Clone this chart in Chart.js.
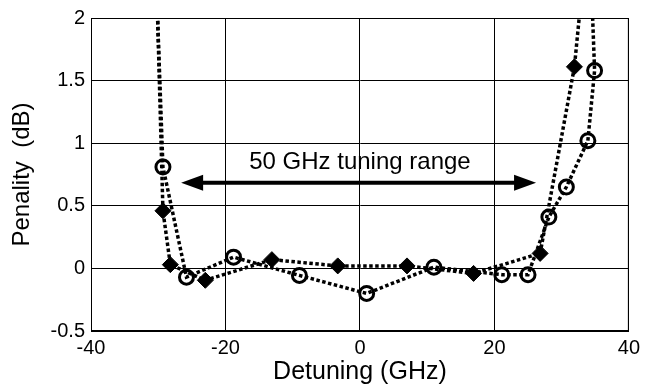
<!DOCTYPE html>
<html>
<head>
<meta charset="utf-8">
<script src="https://cdn.jsdelivr.net/npm/chart.js@4/dist/chart.umd.min.js"></script>
<style>
  html, body { margin: 0; padding: 0; background: #fff; }
  #wrap { width: 645px; height: 388px; }
</style>
</head>
<body>
<div id="wrap"><canvas id="c" width="645" height="388"></canvas></div>
<script>
// Detuning (GHz) and penalty (dB)
const diamondX = [-30.4, -29.3, -28.2, -23.0, -13.1, -3.3, 7.0, 16.9, 26.8, 31.9, 33.7];
const diamondY = [2.6, 0.46, 0.03, -0.095, 0.07, 0.02, 0.02, -0.04, 0.12, 1.61, 2.6];

const circleX = [-30.5, -29.3, -25.8, -18.8, -9.0, 1.0, 11.0, 21.1, 25.0, 28.1, 30.7, 33.9, 34.9, 34.2];
const circleY = [2.6, 0.81, -0.07, 0.09, -0.056, -0.2, 0.01, -0.05, -0.05, 0.41, 0.65, 1.02, 1.58, 2.6];

const xTicks = [-40, -20, 0, 20, 40];
const yTicks = [-0.5, 0, 0.5, 1, 1.5, 2];

const arrowLabel = '50 GHz tuning range';
const arrowFrom = {x: -26.6, y: 0.685};
const arrowTo = {x: 26.2, y: 0.685};
const labelAt = {x: 0, y: 0.845};

const toPts = (xs, ys) => xs.map((x, i) => ({x: x, y: ys[i]}));
const FONT = "'Liberation Sans', Arial, sans-serif";

const arrowPlugin = {
  id: 'arrowPlugin',
  afterDatasetsDraw(chart) {
    const {ctx, scales: {x, y}} = chart;
    const x1 = x.getPixelForValue(arrowFrom.x), y1 = y.getPixelForValue(arrowFrom.y);
    const x2 = x.getPixelForValue(arrowTo.x), y2 = y.getPixelForValue(arrowTo.y);
    const hl = 22, hw = 8;
    ctx.save();
    ctx.strokeStyle = '#000';
    ctx.fillStyle = '#000';
    ctx.lineWidth = 4;
    ctx.beginPath();
    ctx.moveTo(x1 + hl - 2, y1);
    ctx.lineTo(x2 - hl + 2, y2);
    ctx.stroke();
    ctx.beginPath();
    ctx.moveTo(x1, y1);
    ctx.lineTo(x1 + hl, y1 - hw);
    ctx.lineTo(x1 + hl, y1 + hw);
    ctx.closePath();
    ctx.fill();
    ctx.beginPath();
    ctx.moveTo(x2, y2);
    ctx.lineTo(x2 - hl, y2 - hw);
    ctx.lineTo(x2 - hl, y2 + hw);
    ctx.closePath();
    ctx.fill();
    ctx.font = '24px ' + FONT;
    ctx.textAlign = 'center';
    ctx.textBaseline = 'middle';
    ctx.fillText(arrowLabel, x.getPixelForValue(labelAt.x), y.getPixelForValue(labelAt.y));
    ctx.restore();
  }
};

new Chart(document.getElementById('c'), {
  type: 'line',
  data: {
    datasets: [
      {
        label: 'diamond',
        data: toPts(diamondX, diamondY),
        borderColor: '#000',
        borderWidth: 3.5,
        borderDash: [3.5, 2.5],
        pointStyle: 'rectRot',
        pointRadius: c => (c.raw && c.raw.y > 2 ? 0 : 8),
        pointBackgroundColor: '#000',
        pointBorderColor: '#000',
        pointBorderWidth: 1,
        tension: 0,
        fill: false
      },
      {
        label: 'circle',
        data: toPts(circleX, circleY),
        borderColor: '#000',
        borderWidth: 3.5,
        borderDash: [3.5, 2.5],
        pointStyle: 'circle',
        pointRadius: c => (c.raw && c.raw.y > 2 ? 0 : 7),
        pointBackgroundColor: 'rgba(255,255,255,0)',
        pointBorderColor: '#000',
        pointBorderWidth: 3,
        tension: 0,
        fill: false
      }
    ]
  },
  options: {
    responsive: false,
    animation: false,
    events: [],
    layout: { padding: { top: 17, right: 14, left: 0, bottom: 0 } },
    plugins: { legend: { display: false }, tooltip: { enabled: false } },
    scales: {
      x: {
        type: 'linear',
        min: -40, max: 40,
        afterBuildTicks: s => { s.ticks = xTicks.map(v => ({value: v})); },
        afterFit: s => { s.height = 57; },
        ticks: { color: '#000', font: { family: FONT, size: 20 }, padding: 5, maxRotation: 0, callback: v => String(v) },
        grid: { color: '#000', lineWidth: 1, drawTicks: false },
        border: { color: '#000', width: 1 },
        title: { display: true, text: 'Detuning (GHz)', color: '#000', font: { family: FONT, size: 25 }, padding: { top: 0, bottom: 1 } }
      },
      y: {
        type: 'linear',
        min: -0.5, max: 2,
        afterBuildTicks: s => { s.ticks = yTicks.map(v => ({value: v})); },
        afterFit: s => { s.width = 91; },
        ticks: { color: '#000', font: { family: FONT, size: 20 }, padding: 6, callback: v => String(v) },
        grid: { color: '#000', lineWidth: 1, drawTicks: false },
        border: { color: '#000', width: 1 },
        title: { display: true, text: 'Penality  (dB)', color: '#000', font: { family: FONT, size: 24 }, padding: { top: 8, bottom: 0 } }
      }
    }
  },
  plugins: [arrowPlugin, {
    id: 'frame',
    afterDraw(chart) {
      const {ctx, chartArea: a} = chart;
      ctx.save();
      ctx.strokeStyle = '#000';
      ctx.lineWidth = 1;
      ctx.strokeRect(a.left + 0.5, a.top + 0.5, a.right - a.left - 1, a.bottom - a.top - 1);
      ctx.restore();
    }
  }]
});
</script>
</body>
</html>
